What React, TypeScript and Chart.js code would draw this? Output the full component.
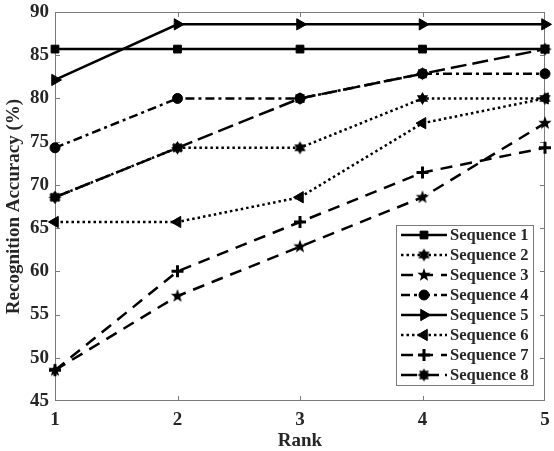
import { useEffect, useRef } from 'react';
import { Chart, registerables } from 'chart.js';
import { drawPoint } from 'chart.js/helpers';

Chart.register(...registerables);

// Rank axis categories
const ranks = ['1', '2', '3', '4', '5'];

// Recognition accuracy (%) per sequence, rank 1..5
const seq1 = [85.71, 85.71, 85.71, 85.71, 85.71];
const seq2 = [68.57, 74.29, 74.29, 80.0, 80.0];
const seq3 = [48.57, 57.14, 62.86, 68.57, 77.14];
const seq4 = [74.29, 80.0, 80.0, 82.86, 82.86];
const seq5 = [82.14, 88.57, 88.57, 88.57, 88.57];
const seq6 = [65.71, 65.71, 68.57, 77.14, 80.0];
const seq7 = [48.57, 60.0, 65.71, 71.43, 74.29];
const seq8 = [68.57, 74.29, 80.0, 82.86, 85.71];

const seriesNames = [
  'Sequence 1',
  'Sequence 2',
  'Sequence 3',
  'Sequence 4',
  'Sequence 5',
  'Sequence 6',
  'Sequence 7',
  'Sequence 8',
];

const yMin = 45;
const yMax = 90;
const yStep = 5;

const FONT = '"Liberation Serif", "Times New Roman", serif';
const TEXT = '#262626';
const FRAME = '#7a7a7a';

// Filled star-shaped marker drawn onto a small canvas
function starMarker(points: number, outer: number, inner: number): HTMLCanvasElement {
  const size = Math.ceil(outer * 2 + 2);
  const c = document.createElement('canvas');
  c.width = size;
  c.height = size;
  const ctx = c.getContext('2d')!;
  ctx.translate(size / 2, size / 2);
  ctx.beginPath();
  for (let i = 0; i < points * 2; i++) {
    const r = i % 2 ? inner : outer;
    const a = -Math.PI / 2 + (i * Math.PI) / points;
    ctx.lineTo(r * Math.cos(a), r * Math.sin(a));
  }
  ctx.closePath();
  ctx.fillStyle = '#000';
  ctx.fill();
  return c;
}

// Box frame with inward tick marks on all four sides
const framePlugin = {
  id: 'frameTicks',
  beforeDatasetsDraw(chart: any) {
    const { ctx, chartArea: a, scales } = chart;
    const len = 5;
    ctx.save();
    ctx.strokeStyle = FRAME;
    ctx.lineWidth = 1;
    ctx.setLineDash([]);
    ctx.strokeRect(a.left + 0.5, a.top + 0.5, a.right - a.left - 1, a.bottom - a.top - 1);
    ctx.beginPath();
    for (let v = yMin + yStep; v < yMax; v += yStep) {
      const y = Math.round(scales.y.getPixelForValue(v)) + 0.5;
      ctx.moveTo(a.left, y);
      ctx.lineTo(a.left + len, y);
      ctx.moveTo(a.right, y);
      ctx.lineTo(a.right - len, y);
    }
    for (let i = 1; i < ranks.length - 1; i++) {
      const x = Math.round(scales.x.getPixelForValue(i)) + 0.5;
      ctx.moveTo(x, a.bottom);
      ctx.lineTo(x, a.bottom - len);
      ctx.moveTo(x, a.top);
      ctx.lineTo(x, a.top + len);
    }
    ctx.stroke();
    ctx.restore();
  },
};

// Legend box with line sample + marker per sequence
const legendPlugin = {
  id: 'boxLegend',
  afterDraw(chart: any) {
    const { ctx } = chart;
    const left = 396;
    const top = 225;
    const w = 137;
    const rowH = 20;
    const h = rowH * chart.data.datasets.length;
    ctx.save();
    ctx.fillStyle = '#fff';
    ctx.fillRect(left, top, w, h);
    ctx.strokeStyle = FRAME;
    ctx.lineWidth = 1;
    ctx.setLineDash([]);
    ctx.strokeRect(left + 0.5, top + 0.5, w, h);
    chart.data.datasets.forEach((ds: any, i: number) => {
      const y = top + 10 + i * rowH;
      ctx.strokeStyle = '#000';
      ctx.lineWidth = ds.borderWidth;
      ctx.setLineDash(ds.borderDash || []);
      ctx.beginPath();
      ctx.moveTo(401, y);
      ctx.lineTo(447, y);
      ctx.stroke();
      ctx.setLineDash([]);
      ctx.fillStyle = '#000';
      ctx.strokeStyle = '#000';
      ctx.lineWidth = ds.pointBorderWidth;
      drawPoint(
        ctx,
        {
          pointStyle: ds.pointStyle,
          rotation: ds.pointRotation || 0,
          radius: ds.pointRadius,
          borderWidth: ds.pointBorderWidth,
        },
        424,
        y
      );
      ctx.fillStyle = TEXT;
      ctx.font = `bold 16.5px ${FONT}`;
      ctx.textAlign = 'left';
      ctx.textBaseline = 'middle';
      ctx.fillText(seriesNames[i], 450, y + 1);
    });
    ctx.restore();
  },
};

export default function App() {
  const canvasRef = useRef<HTMLCanvasElement | null>(null);

  useEffect(() => {
    const pentagram = starMarker(5, 7, 2.9);
    const hexagram = starMarker(6, 6.5, 3.8);
    const burst = starMarker(8, 6.5, 4.2);

    const base = {
      borderColor: '#000',
      backgroundColor: '#000',
      pointBackgroundColor: '#000',
      pointBorderColor: '#000',
      borderWidth: 2.5,
      pointBorderWidth: 1,
      tension: 0,
      fill: false,
      clip: false as const,
    };

    const datasets: any[] = [
      { ...base, label: seriesNames[0], data: seq1, pointStyle: 'rect', pointRadius: 5.5 },
      { ...base, label: seriesNames[1], data: seq2, borderDash: [2.5, 3], pointStyle: hexagram, pointRadius: 6 },
      { ...base, label: seriesNames[2], data: seq3, borderDash: [12, 8], pointStyle: pentagram, pointRadius: 7 },
      { ...base, label: seriesNames[3], data: seq4, borderDash: [9, 4, 3, 4], pointStyle: 'circle', pointRadius: 5 },
      { ...base, label: seriesNames[4], data: seq5, pointStyle: 'triangle', pointRotation: 90, pointRadius: 6.5 },
      { ...base, label: seriesNames[5], data: seq6, borderDash: [2.5, 3], pointStyle: 'triangle', pointRotation: -90, pointRadius: 6.5 },
      { ...base, label: seriesNames[6], data: seq7, borderDash: [12, 8], pointStyle: 'cross', pointRadius: 6, pointBorderWidth: 3 },
      { ...base, label: seriesNames[7], data: seq8, borderDash: [16, 6], pointStyle: burst, pointRadius: 6 },
    ];

    const chart = new Chart(canvasRef.current!, {
      type: 'line',
      data: { labels: ranks, datasets },
      options: {
        animation: false,
        responsive: true,
        maintainAspectRatio: false,
        layout: { padding: { left: 0, top: 12, right: 7, bottom: 0 } },
        plugins: {
          legend: { display: false },
          tooltip: { enabled: false },
        },
        scales: {
          x: {
            type: 'category',
            offset: false,
            grid: { display: false, drawTicks: false },
            border: { display: false },
            ticks: {
              color: TEXT,
              padding: 8,
              font: { family: FONT, size: 19, weight: 'bold' },
              maxRotation: 0,
            },
            title: {
              display: true,
              text: 'Rank',
              color: TEXT,
              padding: { top: 0, bottom: 0 },
              font: { family: FONT, size: 19, weight: 'bold', lineHeight: 1 },
            },
            afterFit: (s: any) => {
              s.height = 50;
              s.paddingLeft = 0;
              s.paddingRight = 0;
            },
          },
          y: {
            min: yMin,
            max: yMax,
            grid: { display: false, drawTicks: false },
            border: { display: false },
            ticks: {
              stepSize: yStep,
              color: TEXT,
              padding: 6,
              font: { family: FONT, size: 19, weight: 'bold' },
            },
            title: {
              display: true,
              text: 'Recognition Accuracy (%)',
              color: TEXT,
              padding: { top: 3, bottom: 0 },
              font: { family: FONT, size: 19, weight: 'bold', lineHeight: 1.2 },
            },
            afterFit: (s: any) => {
              s.width = 55;
              s.paddingTop = 0;
              s.paddingBottom = 0;
            },
          },
        },
      },
      plugins: [framePlugin, legendPlugin],
    });

    return () => chart.destroy();
  }, []);

  return (
    <div style={{ position: 'absolute', left: 0, top: 0, width: 554, height: 451, background: '#fff' }}>
      <canvas ref={canvasRef} />
    </div>
  );
}
